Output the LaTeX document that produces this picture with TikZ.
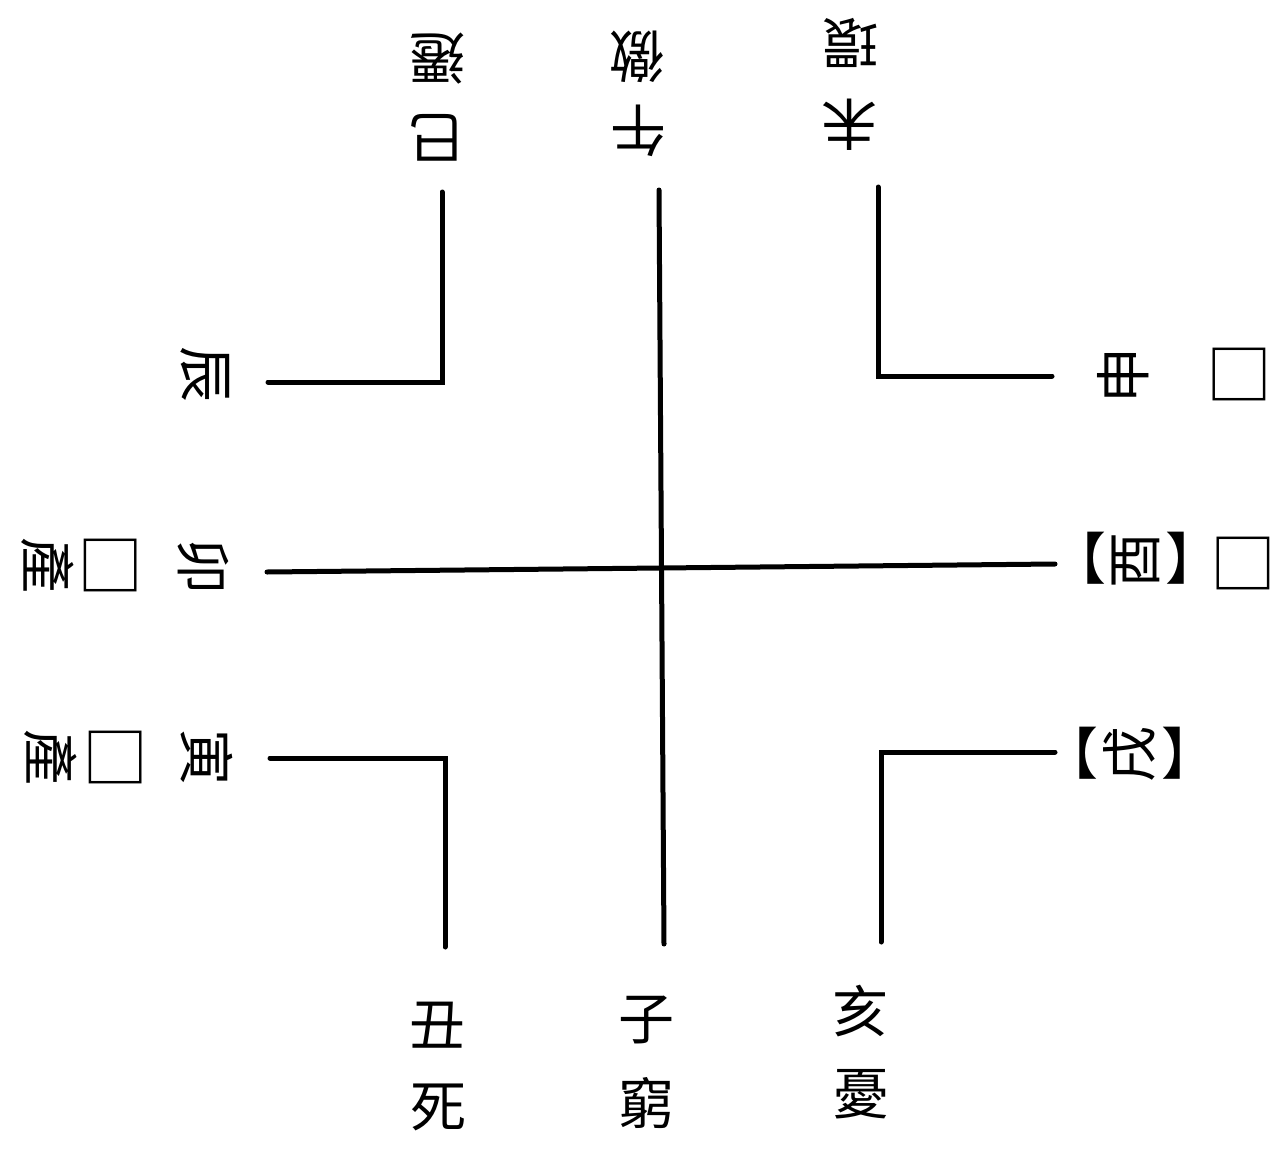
\documentclass[tikz,border=0pt]{standalone}
\usepackage{fontspec}
\setmainfont{Noto Sans CJK TC}
\begin{document}
\begin{tikzpicture}[x=1pt,y=-1pt,
  glyph/.style={inner sep=0pt, font=\fontsize{56}{56}\selectfont},
  boxglyph/.style={inner sep=0pt, font=\fontsize{66}{66}\selectfont},
  rulestroke/.style={line width=5pt, line cap=round, line join=miter}]
\useasboundingbox[fill=white] (0,0) rectangle (1286,1151);
% coordinates of the strokes
\coordinate (cvT) at (659,190); \coordinate (cvB) at (664,944);
\coordinate (chL) at (267,572); \coordinate (chR) at (1055,564);
\coordinate (tlT) at (442,192); \coordinate (tlC) at (442,382); \coordinate (tlL) at (268,382);
\coordinate (trT) at (878,187); \coordinate (trC) at (878,376); \coordinate (trR) at (1052,376);
\coordinate (blL) at (270,758); \coordinate (blC) at (445,758); \coordinate (blB) at (445,947);
\coordinate (brR) at (1055,752); \coordinate (brC) at (881,752); \coordinate (brB) at (881,942);
\draw[rulestroke] (cvT) -- (cvB);
\draw[rulestroke] (chL) -- (chR);
\draw[rulestroke] (tlT) -- (tlC) -- (tlL);
\draw[rulestroke] (trT) -- (trC) -- (trR);
\draw[rulestroke] (blL) -- (blC) -- (blB);
\draw[rulestroke] (brR) -- (brC) -- (brB);
% top (upside down)
\node[glyph, rotate=180] (si1) at (436,138) {巳};
\node[glyph, rotate=180] (si2) at (437,59) {遷};
\node[glyph, rotate=180] (wu1) at (638,131) {午};
\node[glyph, rotate=180] (wu2) at (637,57) {徼};
\node[glyph, rotate=180] (wei1) at (849,125) {未};
\node[glyph, rotate=180] (wei2) at (850,43) {環};
% left (rotated clockwise)
\node[glyph, rotate=-90] (chen1) at (205,374) {辰};
\node[glyph, rotate=-90] (mao1) at (203,566) {卯};
\node[boxglyph, rotate=-90] (mao2) at (111,565) {□};
\node[glyph, rotate=-90] (mao3) at (48,565) {產};
\node[glyph, rotate=-90] (yin1) at (207,757) {寅};
\node[boxglyph, rotate=-90] (yin2) at (116,757) {□};
\node[glyph, rotate=-90] (yin3) at (51,757) {產};
% right (rotated counter-clockwise)
\node[glyph, rotate=90] (shen1) at (1123,375) {申};
\node[boxglyph, rotate=90] (shen2) at (1239,374) {□};
\node[glyph] (you1) at (1136,560) {【\hspace{6pt}\rotatebox[origin=c]{90}{酉}\hspace{6pt}】};
\node[boxglyph, rotate=90] (you2) at (1243,563) {□};
\node[glyph] (xu1) at (1130,754) {【\hspace{5pt}\rotatebox[origin=c]{90}{戌}\hspace{5pt}】};
% bottom (upright)
\node[glyph] (chou1) at (437,1025) {丑};
\node[glyph] (chou2) at (438,1107) {死};
\node[glyph] (zi1) at (646,1020) {子};
\node[glyph] (zi2) at (646,1103) {窮};
\node[glyph] (hai1) at (860,1011) {亥};
\node[glyph] (hai2) at (861,1094) {憂};
\end{tikzpicture}
\end{document}
